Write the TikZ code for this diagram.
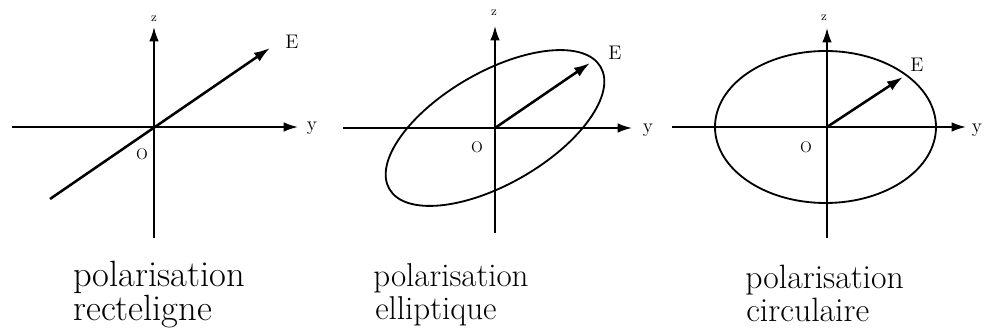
\documentclass[tikz,border=0pt]{standalone}
\usepackage{tikz}
\usetikzlibrary{arrows.meta,positioning}

\begin{document}
\begin{tikzpicture}[
  x=0.25mm, y=-0.25mm,
  axis/.style={-{Latex[length=3.6mm,width=2.4mm]},line width=1.2pt},
  vec/.style={-{Latex[length=4mm,width=2.6mm]},line width=1.8pt},
  orbit/.style={line width=1.3pt},
  lbl/.style={inner sep=0pt,font=\fontsize{14}{14}\selectfont},
  tiny/.style={inner sep=0pt,font=\fontsize{9}{9}\selectfont},
  legend/.style={anchor=base west,inner sep=0pt}
]
\useasboundingbox (0,0) rectangle (984,329);
% rectiligne
\coordinate (o1) at (154,127);
\coordinate (w1) at (12,127);
\coordinate (y1) at (298,127);
\coordinate (s1) at (154,238);
\coordinate (z1) at (154,27);
\coordinate (t1) at (50,199);
\coordinate (e1) at (270,48);
\draw[axis] (w1)--(y1);
\draw[axis] (s1)--(z1);
\draw[vec] (t1)--(e1);
\node[lbl] (ly1) at (312,128) {y};
\node[lbl] (le1) at (292,42) {E};
\node[lbl,font=\fontsize{11}{11}\selectfont] (lo1) at (142,154) {O};
\node[tiny] (lz1) at (154,19) {z};
\node[legend,font=\fontsize{26}{26}\selectfont] (p1) at (73,287) {polarisation};
\node[legend,font=\fontsize{26}{26}\selectfont] (k1) at (73,321) {recteligne};
% elliptique
\coordinate (o2) at (495,128);
\coordinate (w2) at (343,128);
\coordinate (y2) at (632,128);
\coordinate (s2) at (495,233);
\coordinate (z2) at (495,26);
\coordinate (e2) at (590,63);
\draw[orbit,rotate around={30:(o2)}] (o2) ellipse [x radius=122,y radius=56];
\draw[axis] (w2)--(y2);
\draw[axis] (s2)--(z2);
\draw[vec] (o2)--(e2);
\node[lbl] (ly2) at (648,130) {y};
\node[lbl] (le2) at (615,53) {E};
\node[lbl,font=\fontsize{11}{11}\selectfont] (lo2) at (477,147) {O};
\node[tiny] (lz2) at (494,13) {z};
\node[legend,font=\fontsize{23.5}{23.5}\selectfont] (p2) at (373,287) {polarisation};
\node[legend,font=\fontsize{23.5}{23.5}\selectfont] (k2) at (375,320) {elliptique};
% circulaire
\coordinate (o3) at (827,127);
\coordinate (w3) at (672,127);
\coordinate (y3) at (966,127);
\coordinate (s3) at (827,238);
\coordinate (z3) at (827,28);
\coordinate (e3) at (903,77);
\draw[orbit] (825.5,127) ellipse [x radius=110.5,y radius=76];
\draw[axis] (w3)--(y3);
\draw[axis] (s3)--(z3);
\draw[vec] (o3)--(e3);
\node[lbl] (ly3) at (977,130) {y};
\node[lbl] (le3) at (917,65) {E};
\node[lbl,font=\fontsize{11}{11}\selectfont] (lo3) at (806,147) {O};
\node[tiny] (lz3) at (824,18) {z};
\node[legend,font=\fontsize{24}{24}\selectfont] (p3) at (745,289) {polarisation};
\node[legend,font=\fontsize{24}{24}\selectfont] (k3) at (746,322) {circulaire};
\end{tikzpicture}
\end{document}
